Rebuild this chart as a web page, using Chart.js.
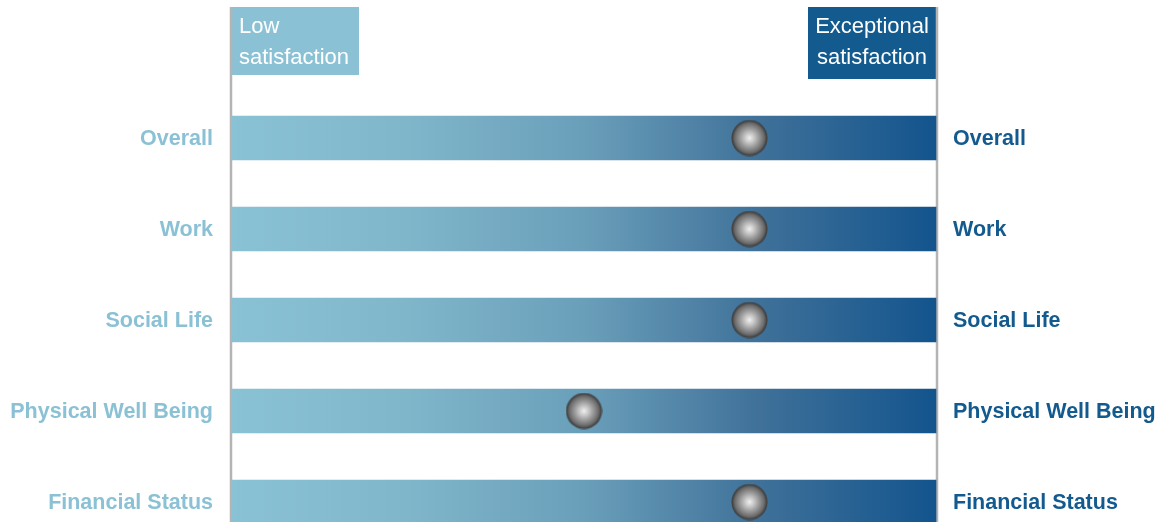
<!DOCTYPE html>
<html>
<head>
<meta charset="utf-8">
<script src="https://cdn.jsdelivr.net/npm/chart.js@4/dist/chart.umd.min.js"></script>
<style>
  html, body { margin: 0; padding: 0; background: #fff; }
  #wrap { width: 1169px; height: 522px; position: relative; }
</style>
</head>
<body>
<div id="wrap"><canvas id="satChart"></canvas></div>
<script>
// data
var categories = ['Overall', 'Work', 'Social Life', 'Physical Well Being', 'Financial Status'];
var scores = [73.5, 73.5, 73.5, 50, 73.5];
var fullScale = [100, 100, 100, 100, 100];
var scaleMin = 0, scaleMax = 100;

var lightBlue = '#8bc1d5';
var darkBlue = '#135a8f';

// marker sphere
function makeBall(size) {
  var c = document.createElement('canvas');
  c.width = size; c.height = size;
  var g = c.getContext('2d');
  var r = size / 2;
  var grad = g.createRadialGradient(r, r, 0, r, r, r);
  grad.addColorStop(0, '#f0f0f0');
  grad.addColorStop(0.2, '#d0d0d0');
  grad.addColorStop(0.5, '#9c9c9c');
  grad.addColorStop(0.8, '#6a6a6a');
  grad.addColorStop(0.9, '#4a4a4a');
  grad.addColorStop(1, '#383838');
  g.fillStyle = grad;
  g.beginPath(); g.arc(r, r, r - 0.5, 0, Math.PI * 2); g.fill();
  return c;
}
var ball = makeBall(37);

var decor = {
  id: 'decor',
  beforeDatasetsDraw: function(chart) {
    var ctx = chart.ctx, a = chart.chartArea;
    ctx.save();
    // boxes
    ctx.fillStyle = lightBlue;
    ctx.fillRect(a.left - 1, 7, 128, 68);
    ctx.fillStyle = darkBlue;
    ctx.fillRect(a.right - 128, 7, 128, 72);
    ctx.fillStyle = '#ffffff';
    ctx.font = '22px "Liberation Sans", Arial, sans-serif';
    ctx.textBaseline = 'alphabetic';
    ctx.textAlign = 'left';
    ctx.fillText('Low', a.left + 7, 33);
    ctx.fillText('satisfaction', a.left + 7, 64);
    ctx.textAlign = 'center';
    ctx.fillText('Exceptional', a.right - 64, 33);
    ctx.fillText('satisfaction', a.right - 64, 64);
    // side lines
    ctx.strokeStyle = '#b4b4b4';
    ctx.lineWidth = 2.5;
    ctx.beginPath();
    ctx.moveTo(a.left - 1, 7); ctx.lineTo(a.left - 1, chart.height);
    ctx.moveTo(a.right + 1, 7); ctx.lineTo(a.right + 1, chart.height);
    ctx.stroke();
    ctx.restore();
  }
};

var tickFont = { family: '"Liberation Sans", Arial, sans-serif', size: 21.5, weight: 'bold' };

function fitSide(w) {
  return function(s) {
    s.width = w;
    s.paddingTop = 0;
    s.paddingBottom = 0;
  };
}

new Chart(document.getElementById('satChart'), {
  data: {
    labels: categories,
    datasets: [
      {
        type: 'line',
        data: scores,
        showLine: false,
        pointStyle: ball,
        pointRadius: 18,
        pointHoverRadius: 18,
        clip: false,
        order: 0
      },
      {
        type: 'bar',
        data: fullScale,
        barThickness: 44,
        clip: false,
        order: 1,
        backgroundColor: function(context) {
          var a = context.chart.chartArea;
          if (!a) return lightBlue;
          var g = context.chart.ctx.createLinearGradient(a.left, 0, a.right, 0);
          g.addColorStop(0, '#8ac2d5');
          g.addColorStop(0.25, '#80b6ca');
          g.addColorStop(0.5, '#6a9fba');
          g.addColorStop(0.75, '#3f7199');
          g.addColorStop(1, '#13548d');
          return g;
        }
      }
    ]
  },
  options: {
    indexAxis: 'y',
    responsive: true,
    maintainAspectRatio: false,
    animation: false,
    layout: { padding: { top: 138, bottom: 20 } },
    plugins: { legend: { display: false }, tooltip: { enabled: false } },
    scales: {
      x: { display: false, min: scaleMin, max: scaleMax },
      y: {
        type: 'category',
        offset: false,
        grid: { display: false, drawTicks: false },
        border: { display: false },
        ticks: { color: lightBlue, font: tickFont, padding: 19, labelOffset: 1 },
        afterFit: fitSide(232)
      },
      y2: {
        type: 'category',
        position: 'right',
        labels: categories,
        offset: false,
        grid: { display: false, drawTicks: false },
        border: { display: false },
        ticks: { color: darkBlue, font: tickFont, padding: 17, labelOffset: 1 },
        afterFit: fitSide(233)
      }
    }
  },
  plugins: [decor]
});
</script>
</body>
</html>
